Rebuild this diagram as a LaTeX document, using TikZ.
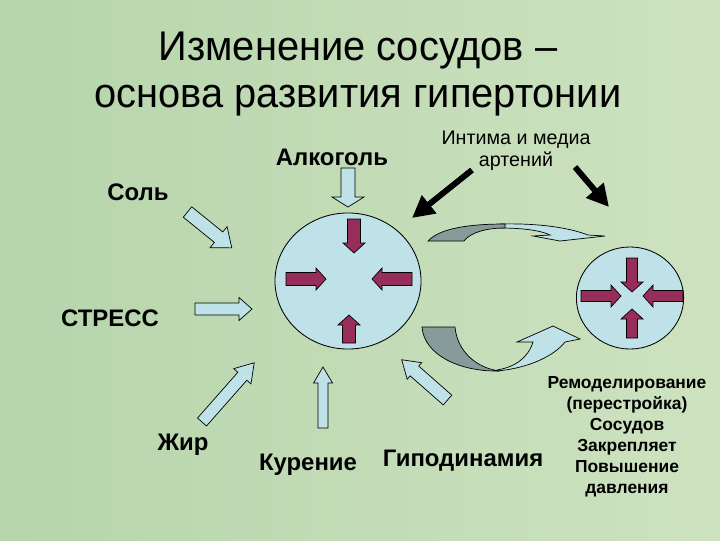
\documentclass[tikz,border=0pt]{standalone}
\usepackage{fontspec}
\setmainfont{Liberation Sans}
\newfontfamily\titlefont[FakeStretch=0.96]{Liberation Sans}
\usepackage{xcolor}
\usetikzlibrary{shapes.geometric,positioning,calc,arrows.meta}

\definecolor{bgleft}{RGB}{182,213,172}
\definecolor{bgright}{RGB}{206,226,192}
\definecolor{vesselblue}{RGB}{190,226,232}
\definecolor{pressred}{RGB}{150,45,90}
\definecolor{bandgray}{RGB}{135,155,155}

\tikzset{
  factor/.style={font=\bfseries\fontsize{17}{20}\selectfont},
  lightarr/.style={draw=black, line width=0.5pt, fill=vesselblue},
  redarr/.style={draw=black, line width=0.5pt, fill=pressred},
  vessel/.style={ellipse, draw=black, line width=0.6pt, fill=vesselblue, inner sep=0pt},
  blackarr/.style={line width=4.2pt, -{Triangle[length=0.55cm,width=0.55cm]}},
}

% block arrow: style, tail point, angle, length, shaft half, head half, head length
\newcommand{\barrow}[7]{%
  \begin{scope}[shift={#2}, rotate=#3]
    \draw[#1] (0,-#5) -- ({#4-#7},-#5) -- ({#4-#7},-#6) -- (#4,0) -- ({#4-#7},#6) -- ({#4-#7},#5) -- (0,#5) -- cycle;
  \end{scope}}

\begin{document}
\begin{tikzpicture}[x=0.025cm, y=-0.025cm]
  % background
  \shade[left color=bgleft, right color=bgright] (0,0) rectangle (720,540);
  \useasboundingbox (0,0) rectangle (720,540);

  % title
  \node[align=center, font=\titlefont\fontsize{29.5}{34}\selectfont] (title) at (358,74)
    {Изменение сосудов –\\ основа развития гипертонии};

  % vessels
  \node[vessel, minimum width=3.65cm, minimum height=3.4cm] (vessel) at (348,281) {};
  \node[vessel, minimum width=2.68cm, minimum height=2.55cm] (small) at (630,298) {};

  % pressure inside the big vessel
  \barrow{redarr}{(354,219)}{-90}{34}{6.5}{11}{10}
  \barrow{redarr}{(286,279)}{0}{40}{6.5}{11}{10}
  \barrow{redarr}{(412,279)}{180}{40}{6.5}{11}{10}
  \barrow{redarr}{(349,343)}{90}{28}{6.5}{11}{10}

  % pressure inside the small vessel
  \barrow{redarr}{(632,258)}{-90}{34}{5.5}{11}{10}
  \barrow{redarr}{(581,296)}{0}{40}{5.5}{11}{10}
  \barrow{redarr}{(683,296)}{180}{40}{5.5}{11}{10}
  \barrow{redarr}{(632,338)}{90}{29}{5.5}{11}{10}

  % factors
  \node[factor] (salt)   at (138,192) {Соль};
  \node[factor] (alco)   at (332,157) {Алкоголь};
  \node[factor] (stress) at (110,318) {СТРЕСС};
  \node[factor] (fat)    at (183,445) {Жир};
  \node[factor] (smoke)  at (308,465) {Курение};
  \node[factor] (hypo)   at (463,461) {Гиподинамия};

  \barrow{lightarr}{(187.5,212)}{-39}{57}{6.7}{13.5}{17}
  \barrow{lightarr}{(195,309)}{0}{57}{6}{11.5}{13}
  \barrow{lightarr}{(348,168)}{-90}{39}{7}{16}{10}
  \barrow{lightarr}{(202,422)}{48.6}{79}{6}{11.5}{18}
  \barrow{lightarr}{(323,428)}{90}{61}{5}{9.5}{16}
  \barrow{lightarr}{(447.5,400)}{138.7}{61}{6.5}{11}{17}

  % intima and media
  \node[align=center, font=\fontsize{14}{15.6}\selectfont] (intima) at (516,151)
    {Интима и медиа\\артений};
  \coordinate (il) at (472,170);
  \coordinate (ir) at (575,167);
  \coordinate (tl) at (412,218);
  \coordinate (tr) at (609,207);
  \draw[blackarr] (il) -- (tl);
  \draw[blackarr] (ir) -- (tr);

  % upper curved arrow
  \draw[line width=0.5pt, fill=vesselblue] (500,224) .. controls (540,223) and (570,228) .. (588,235)
    -- (605,236) -- (560,241) -- (533,236) -- (550,235) .. controls (540,230) and (520,228) .. (500,228) -- cycle;
  \draw[line width=0.5pt, fill=bandgray] (428,241) .. controls (440,228) and (470,224) .. (505,224)
    -- (505,228) .. controls (485,228) and (470,233) .. (464,241) -- cycle;

  % lower curved arrow
  \draw[line width=0.5pt, fill=vesselblue] (497,371) .. controls (530,368) and (555,355) .. (565,342)
    -- (580,339) -- (553,326) -- (517,342) -- (533,342) .. controls (528,358) and (515,367) .. (497,370) -- cycle;
  \draw[line width=0.5pt, fill=bandgray] (422,327) -- (455,327) .. controls (457,350) and (475,368) .. (500,371)
    .. controls (460,372) and (424,355) .. (422,327) -- cycle;

  % remodelling
  \node[align=center, font=\bfseries\fontsize{12.4}{14.9}\selectfont] (remod) at (627,437)
    {Ремоделирование\\(перестройка)\\Сосудов\\Закрепляет\\Повышение\\давления};
\end{tikzpicture}
\end{document}
